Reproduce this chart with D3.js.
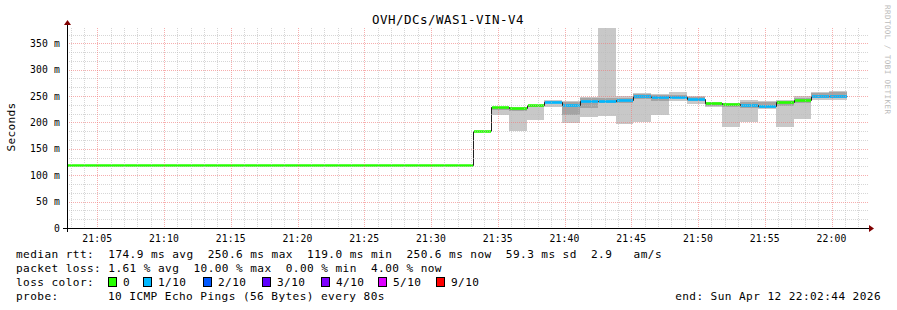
<!DOCTYPE html>
<html><head><meta charset="utf-8">
<script src="https://cdn.jsdelivr.net/npm/d3@7"></script>
<style>
body{margin:0;background:#fff}
svg{display:block}
text{font-family:"DejaVu Sans Mono",monospace;fill:#000}
</style>
</head><body>
<svg id="c" width="897" height="310"></svg>
<script>
// ---------------- data ----------------
const title = "OVH/DCs/WAS1-VIN-V4";
const startTime = "21:02:44";
const endTime = "22:02:44";
// end time of each RRD step (step 0 begins at startTime)
const stepEnds = ["21:33:10","21:34:30","21:35:50","21:37:10","21:38:30","21:39:50","21:41:10","21:42:30","21:43:50","21:45:10","21:46:30","21:47:50","21:49:10","21:50:30","21:51:50","21:53:10","21:54:30","21:55:50","21:57:10","21:58:30","21:59:50","22:01:10"];
const median   = [119.0,184,229,228,233,238,234,240,241,242,250,248,248,244,237,235,233,232,238,242,251,250.6];
const lossIdx  = [0,0,0,0,0,1,1,1,1,1,1,1,1,1,0,0,1,1,0,0,1,1];
const smokeMin = [119,184,214,184,205,230,199,211,212,198,201,214,241,235,229,192,200,225,192,207,243,243];
const smokeMax = [119,184,230,230,234,243,240,248,380,251,255,253,257,251,238,237,243,240,243,251,257,260];
const coreLo   = [119,184,224,222,229,236,214,228,236,236,244,241,246,240,232,230,228,228,232,236,246,247];
const coreHi   = [119,184,229,228,233,241,238,246,246,247,253,252,252,248,237,235,239,238,241,246,255,258];

const yTicks = [0,50,100,150,200,250,300,350];
const yTickLabels = ["0","50 m","100 m","150 m","200 m","250 m","300 m","350 m"];
const yMax = 379;
const yMinorStep = 50/3;
const xTickFormat = "%H:%M";

const lossLabels = ["0","1/10","2/10","3/10","4/10","5/10","9/10"];
const lossColors = ["#26ff00","#00b8ff","#0059ff","#5e00ff","#7e00ff","#dd00ff","#ff0000"];

const legendMedian = "median rtt:  174.9 ms avg  250.6 ms max  119.0 ms min  250.6 ms now  59.3 ms sd  2.9   am/s";
const legendLoss   = "packet loss: 1.61 % avg  10.00 % max  0.00 % min  4.00 % now";
const legendLossTitle = "loss color:";
const legendProbeTitle = "probe:";
const legendProbe  = "10 ICMP Echo Pings (56 Bytes) every 80s";
const legendEnd    = "end: Sun Apr 12 22:02:44 2026";
const yLabel = "Seconds";
const watermark = "RRDTOOL / TOBI OETIKER";

// ---------------- drawing ----------------
const svg = d3.select("#c");
const parse = d3.timeParse("%H:%M:%S");
const L = 67, R = 868, T = 28, B = 228;

const x = d3.scaleTime().domain([parse(startTime), parse(endTime)]).range([L, R]);
const y = d3.scaleLinear().domain([0, yMax]).range([B, T]);

svg.append("rect").attr("width",897).attr("height",310).attr("fill","#fff");

svg.append("defs").append("clipPath").attr("id","plot")
  .append("rect").attr("x",L).attr("y",T).attr("width",R-L).attr("height",B-T);

const steps = stepEnds.map((e,i)=>({
  t0: i===0 ? parse(startTime) : parse(stepEnds[i-1]),
  t1: parse(e),
  med: median[i], loss: lossIdx[i],
  mn: smokeMin[i], mx: smokeMax[i], lo: coreLo[i], hi: coreHi[i]
}));

const g = svg.append("g").attr("clip-path","url(#plot)");

// smoke
g.selectAll("rect.smoke").data(steps.filter(d=>d.mx>d.mn)).enter().append("rect")
  .attr("x",d=>Math.round(x(d.t0))).attr("width",d=>Math.round(x(d.t1))-Math.round(x(d.t0)))
  .attr("y",d=>Math.round(y(d.mx))).attr("height",d=>Math.round(y(d.mn))-Math.round(y(d.mx)))
  .attr("fill","#c8c8c8").attr("shape-rendering","crispEdges");
g.selectAll("rect.core").data(steps.filter(d=>d.hi>d.lo)).enter().append("rect")
  .attr("x",d=>Math.round(x(d.t0))).attr("width",d=>Math.round(x(d.t1))-Math.round(x(d.t0)))
  .attr("y",d=>Math.round(y(d.hi))).attr("height",d=>Math.round(y(d.lo))-Math.round(y(d.hi)))
  .attr("fill","#a4a4a4").attr("shape-rendering","crispEdges");

// grid
const gridG = svg.append("g").attr("shape-rendering","crispEdges");
const minorTimes = d3.timeMinute.every(1).range(x.domain()[0], x.domain()[1]);
const majorTimes = d3.timeMinute.every(5).range(x.domain()[0], x.domain()[1]);
const isMajorT = t => t.getMinutes()%5===0;
gridG.selectAll("line.vmin").data(minorTimes.filter(t=>!isMajorT(t))).enter().append("line")
  .attr("x1",d=>Math.round(x(d))+0.5).attr("x2",d=>Math.round(x(d))+0.5).attr("y1",T).attr("y2",B)
  .attr("stroke","rgba(186,186,186,0.6)").attr("stroke-dasharray","1,1");
const minorVals = d3.range(0, yMax, yMinorStep).filter((v,i)=>i%3!==0);
gridG.selectAll("line.hmin").data(minorVals).enter().append("line")
  .attr("x1",L).attr("x2",R).attr("y1",d=>Math.round(y(d))+0.5).attr("y2",d=>Math.round(y(d))+0.5)
  .attr("stroke","rgba(186,186,186,0.6)").attr("stroke-dasharray","1,1");
gridG.selectAll("line.vmaj").data(majorTimes).enter().append("line")
  .attr("x1",d=>Math.round(x(d))+0.5).attr("x2",d=>Math.round(x(d))+0.5).attr("y1",T).attr("y2",B)
  .attr("stroke","rgba(240,120,120,0.6)").attr("stroke-dasharray","1,1");
gridG.selectAll("line.hmaj").data(yTicks.filter(v=>v>0)).enter().append("line")
  .attr("x1",L).attr("x2",R).attr("y1",d=>Math.round(y(d))+0.5).attr("y2",d=>Math.round(y(d))+0.5)
  .attr("stroke","rgba(240,120,120,0.6)").attr("stroke-dasharray","1,1");

// median black step line
const pts = [];
steps.forEach(d=>{pts.push([d.t0,d.med]);pts.push([d.t1,d.med]);});
g.append("path").datum(pts)
  .attr("d", d3.line().x(d=>Math.round(x(d[0]))+0.5).y(d=>Math.round(y(d[1]))+0.5))
  .attr("fill","none").attr("stroke","#202020").attr("stroke-width",1);
// colored median segments
g.selectAll("line.med").data(steps).enter().append("line")
  .attr("x1",d=>Math.round(x(d.t0))+1).attr("x2",d=>Math.round(x(d.t1)))
  .attr("y1",d=>Math.round(y(d.med))+0.5).attr("y2",d=>Math.round(y(d.med))+0.5)
  .attr("stroke",d=>lossColors[d.loss]).attr("stroke-width",2.6);

// axes
const ax = svg.append("g").attr("shape-rendering","crispEdges");
ax.append("line").attr("x1",L-4).attr("x2",R+1).attr("y1",B+0.5).attr("y2",B+0.5).attr("stroke","#000");
ax.append("line").attr("x1",L+0.5).attr("x2",L+0.5).attr("y1",B+4).attr("y2",T-3).attr("stroke","#000");
svg.append("path").attr("d",`M${R+1},${B-3}L${R+6},${B+0.5}L${R+1},${B+4}Z`).attr("fill","#800000");
svg.append("path").attr("d",`M${L-3},${T-3}L${L+0.5},${T-8}L${L+4},${T-3}Z`).attr("fill","#800000");

// y tick labels
svg.selectAll("text.yl").data(yTicks).enter().append("text")
  .attr("x",60).attr("y",d=>y(d)+3.5).attr("text-anchor","end")
  .style("font-size","9.72px").style("letter-spacing","0.15px")
  .text((d,i)=>yTickLabels[i]);
// x tick labels
const fmt = d3.timeFormat(xTickFormat);
svg.selectAll("text.xl").data(majorTimes).enter().append("text")
  .attr("x",d=>x(d)).attr("y",242).attr("text-anchor","middle")
  .style("font-size","9.72px").style("letter-spacing","0.15px")
  .text(d=>fmt(d));

// title
svg.append("text").attr("x",448).attr("y",24).attr("text-anchor","middle")
  .style("font-size","12.5px").style("letter-spacing","0.47px").text(title);
// y label
svg.append("text").attr("transform","translate(15,127) rotate(-90)").attr("text-anchor","middle")
  .style("font-size","11.1px").style("letter-spacing","0.3px").text(yLabel);
// watermark
svg.append("text").attr("transform","translate(884.5,5) rotate(90)").attr("text-anchor","start")
  .style("font-size","7.6px").style("letter-spacing","0.4px").style("fill","#bbbbbb").text(watermark);

// legend
const lf = s => s.style("font-size","11.1px").style("letter-spacing","0.42px").style("white-space","pre");
lf(svg.append("text").attr("x",16).attr("y",258).text(legendMedian));
lf(svg.append("text").attr("x",16).attr("y",272).text(legendLoss));
lf(svg.append("text").attr("x",16).attr("y",286).text(legendLossTitle));
lf(svg.append("text").attr("x",16).attr("y",300).text(legendProbeTitle));
lf(svg.append("text").attr("x",108).attr("y",300).text(legendProbe));
lf(svg.append("text").attr("x",881).attr("y",300).attr("text-anchor","end").text(legendEnd));

const boxX = [108,143,203,262,321,378,436];
const lg = svg.append("g");
lg.selectAll("rect").data(lossLabels).enter().append("rect")
  .attr("x",(d,i)=>boxX[i]+0.5).attr("y",277.5).attr("width",8).attr("height",9)
  .attr("fill",(d,i)=>lossColors[i]).attr("stroke","#000").attr("shape-rendering","crispEdges");
lg.selectAll("text").data(lossLabels).enter().append("text")
  .attr("x",(d,i)=>boxX[i]+15).attr("y",286)
  .style("font-size","11.1px").style("letter-spacing","0.42px").style("white-space","pre").text(d=>d);
</script>
</body></html>
